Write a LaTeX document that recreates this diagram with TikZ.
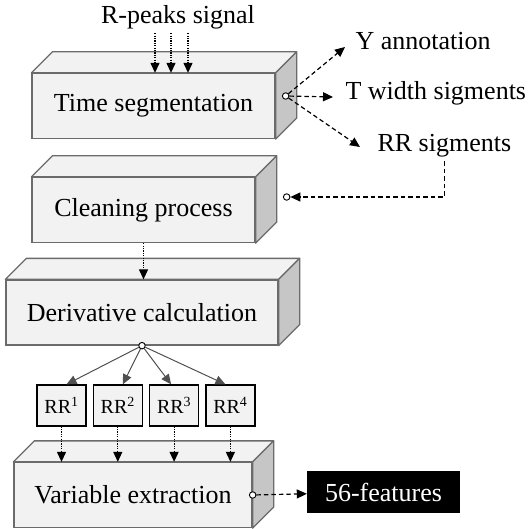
\documentclass[tikz,border=0pt]{standalone}
\usepackage{fontspec}
\setmainfont{Liberation Serif}
\newfontfamily\tnr{Liberation Serif}
\usetikzlibrary{arrows.meta,calc,positioning}
\definecolor{face}{HTML}{F2F2F2}
\definecolor{side}{HTML}{C6C6C6}
\definecolor{edge}{HTML}{6B6B6B}
\definecolor{wire}{HTML}{505050}

\begin{document}
\begin{tikzpicture}[x=1pt,y=-1pt,
  big/.style={font=\tnr\fontsize{26}{30}\selectfont},
  stage/.style={big,draw=edge,fill=face,line width=1.3pt,minimum height=65pt,inner sep=0pt},
  part/.style={font=\tnr\fontsize{20}{24}\selectfont,draw=black,fill=face,line width=1.3pt,
    minimum width=49pt,minimum height=41pt,inner sep=0pt},
  port/.style={circle,draw=black,fill=white,line width=0.9pt,inner sep=0pt,minimum size=6.5pt},
  tip/.style={-{Triangle[length=10pt,width=9pt]}},
  dotarr/.style={tip,line width=1.2pt,dash pattern=on 1.2pt off 1.2pt},
  dasharr/.style={tip,line width=1.2pt,dash pattern=on 4.5pt off 3pt},
  branch/.style={tip,draw=wire,line width=1pt}]
  \useasboundingbox (0,0) rectangle (528,529);
  % stages (front faces)
  \node[stage,minimum width=243pt] (seg) at (153.5,106) {Time segmentation};
  \node[stage,minimum width=223pt] (clean) at (143.5,210) {Cleaning process};
  \node[stage,minimum width=272pt] (deriv) at (142,312.5) {Derivative calculation};
  \node[stage,minimum width=238pt] (varx) at (133,495) {Variable extraction};
  % top and side faces
  \foreach \n in {seg,clean,deriv,varx}{
    \draw[edge,fill=face,line width=1.3pt,line join=round] (\n.north west) -- ++(21,-21)
      -- ($(\n.north east)+(21,-21)$) -- (\n.north east) -- cycle;
    \draw[edge,fill=side,line width=1.3pt,line join=round] (\n.north east) -- ++(21,-21)
      -- ($(\n.south east)+(21,-21)$) -- (\n.south east) -- cycle;
  }
  % input signal
  \node[big,anchor=base] (rpk) at (178,24) {R-peaks signal};
  \foreach \s in {-23,-7,10}{
    \path ([xshift=\s pt]rpk.south) coordinate (rtop);
    \draw[dotarr] (rtop) -- (rtop |- seg.north);
  }
  % segmentation outputs
  \node[port] (sout) at ($(seg.east)+(10,-10)$) {};
  \node[big,anchor=base west] (yann) at (352,50) {Y annotation};
  \node[big,anchor=base west] (twid) at (342,100) {T width sigments};
  \node[big,anchor=base west] (rrseg) at (374,152) {RR sigments};
  \draw[dasharr] (sout) -- ([xshift=-7pt,yshift=3pt]yann.base west);
  \draw[dasharr] (sout) -- ([xshift=-9pt,yshift=3pt]twid.base west);
  \draw[dasharr] (sout) -- ([xshift=-14pt,yshift=5pt]rrseg.base west);
  % feedback into cleaning
  \node[port] (cin) at ($(clean.east)+(31,-13)$) {};
  \draw[dasharr] (rrseg.south) |- (cin);
  \draw[dotarr] (clean.south) -- (clean.south |- deriv.north);
  % RR parts
  \node[part] (rr1) at (61.5,405.5) {RR\textsuperscript{1}};
  \node[part,right=6pt of rr1] (rr2) {RR\textsuperscript{2}};
  \node[part,right=6pt of rr2] (rr3) {RR\textsuperscript{3}};
  \node[part,right=6pt of rr3] (rr4) {RR\textsuperscript{4}};
  \node[port] (fork) at (deriv.south) {};
  \foreach \i/\s in {1/5,2/5,3/-3,4/-5}{
    \draw[branch] (fork) -- ([xshift=\s pt]rr\i.north);
    \draw[dotarr] (rr\i.south) -- (rr\i.south |- varx.north);
  }
  % output
  \node[big,fill=black,text=white,minimum width=153pt,minimum height=42pt] (feat) at (383.5,492) {56-features};
  \node[port] (vout) at (varx.east) {};
  \draw[dasharr] (vout) -- (feat);
\end{tikzpicture}
\end{document}
